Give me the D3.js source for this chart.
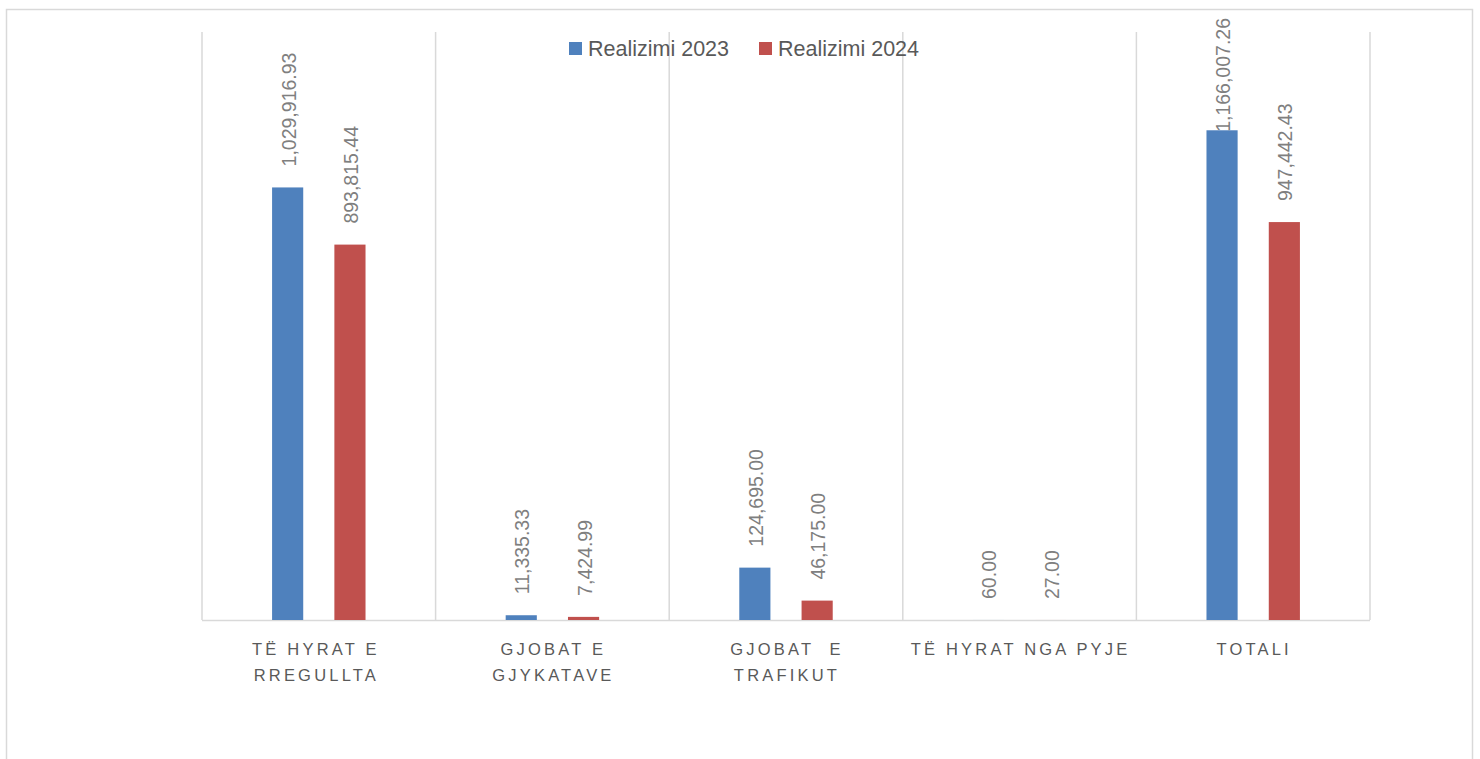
<!DOCTYPE html>
<html>
<head>
<meta charset="utf-8">
<style>
  body { margin: 0; background: #fff; }
  svg text { font-family: "Liberation Sans", Arial, sans-serif; }
</style>
</head>
<body>
<div id="container"></div>
<script src="https://cdn.jsdelivr.net/npm/d3@7"></script>
<script>

// categories (each line of the axis label is one entry)
const categories = [
  ["TË HYRAT E ", "RREGULLTA "],
  ["GJOBAT E", "GJYKATAVE"],
  ["GJOBAT  E", "TRAFIKUT"],
  ["TË HYRAT NGA PYJE"],
  ["TOTALI"]
];
const seriesNames = ["Realizimi 2023", "Realizimi 2024"];
const values2023 = [1029916.93, 11335.33, 124695.00, 60.00, 1166007.26];
const values2024 = [893815.44, 7424.99, 46175.00, 27.00, 947442.43];
const colors = ["#4F81BD", "#C0504D"];

const width = 1480, height = 759;
const plot = { left: 202, right: 1370, top: 32, bottom: 620 };

const svg = d3.select("#container").append("svg")
    .attr("width", width)
    .attr("height", height);

// outer chart border
svg.append("rect")
    .attr("x", 6.5).attr("y", 9.5)
    .attr("width", 1466).attr("height", 800)
    .attr("fill", "none")
    .attr("stroke", "#d9d9d9")
    .attr("stroke-width", 1.5);

const x = d3.scaleBand()
    .domain(d3.range(categories.length))
    .range([plot.left, plot.right]);

const inner = d3.scaleBand()
    .domain([0, 1])
    .range([x.bandwidth() * 0.3, x.bandwidth() * 0.7])
    .paddingInner(0.5);

const y = d3.scaleLinear().domain([0, 1400000]).range([plot.bottom, plot.top]);

// vertical gridlines at category boundaries
const bounds = d3.range(categories.length + 1).map(i => i < categories.length ? x(i) : plot.right);
svg.selectAll("line.grid").data(bounds).enter().append("line")
    .attr("class", "grid")
    .attr("x1", d => d).attr("x2", d => d)
    .attr("y1", plot.top).attr("y2", plot.bottom)
    .attr("stroke", "#d9d9d9")
    .attr("stroke-width", 1.5);

// baseline
svg.append("line")
    .attr("x1", plot.left).attr("x2", plot.right)
    .attr("y1", y(0) + 0.5).attr("y2", y(0) + 0.5)
    .attr("stroke", "#d9d9d9")
    .attr("stroke-width", 1.5);

const rows = [];
[values2023, values2024].forEach((vals, s) => {
  vals.forEach((v, i) => rows.push({ i, s, v }));
});

svg.selectAll("rect.bar").data(rows).enter().append("rect")
    .attr("class", "bar")
    .attr("x", d => x(d.i) + inner(d.s))
    .attr("y", d => y(d.v))
    .attr("width", inner.bandwidth())
    .attr("height", d => y(0) - y(d.v))
    .attr("fill", d => colors[d.s]);

// value labels, rotated
const fmt = d3.format(",.2f");
svg.selectAll("text.val").data(rows).enter().append("text")
    .attr("class", "val")
    .attr("font-size", 19.5)
    .attr("fill", "#7f7f7f")
    .attr("dominant-baseline", "central")
    .text(d => fmt(d.v))
    .each(function(d) {
      const len = this.getComputedTextLength();
      let start = y(d.v) - 21;
      if (start - len < 18) start = 18 + len;
      const cx = x(d.i) + inner(d.s) + inner.bandwidth() / 2 + 1;
      d3.select(this).attr("transform", `translate(${cx},${start}) rotate(-90)`);
    });

// category labels
const cat = svg.selectAll("text.cat").data(categories).enter().append("text")
    .attr("class", "cat")
    .attr("x", (d, i) => x(i) + x.bandwidth() / 2)
    .attr("y", 655)
    .attr("text-anchor", "middle")
    .attr("font-size", 16.5)
    .attr("letter-spacing", 3.2)
    .attr("fill", "#595959")
    .style("white-space", "pre");
cat.selectAll("tspan").data((d, i) => d.map(t => ({ t, i }))).enter().append("tspan")
    .attr("x", d => x(d.i) + x.bandwidth() / 2 + 1)
    .attr("dy", (d, j) => j === 0 ? 0 : 26)
    .text(d => d.t);

// legend
const legendX = [569, 759];
const lg = svg.selectAll("g.legend").data(seriesNames).enter().append("g")
    .attr("class", "legend")
    .attr("transform", (d, i) => `translate(${legendX[i]},42)`);
lg.append("rect")
    .attr("width", 13).attr("height", 13)
    .attr("fill", (d, i) => colors[i]);
lg.append("text")
    .attr("x", 19).attr("y", 13.5)
    .attr("font-size", 21.5)
    .attr("fill", "#595959")
    .text(d => d);

</script>
</body>
</html>
